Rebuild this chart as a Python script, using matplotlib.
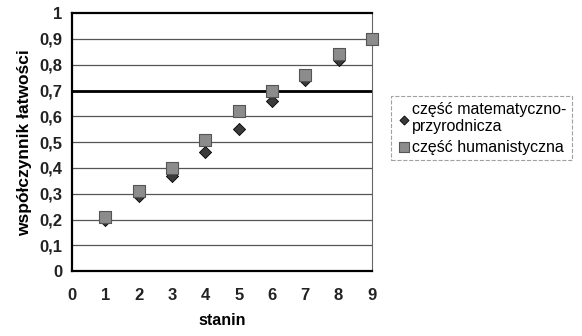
import matplotlib.pyplot as plt
from matplotlib.ticker import FuncFormatter

plt.rcParams['font.family'] = ['Liberation Sans', 'DejaVu Sans']

stanin = [1, 2, 3, 4, 5, 6, 7, 8, 9]
mat_przyr = [0.20, 0.29, 0.37, 0.46, 0.55, 0.66, 0.74, 0.82, 0.90]
humanist = [0.21, 0.31, 0.40, 0.51, 0.62, 0.70, 0.76, 0.84, 0.90]
yticks = [0, 0.1, 0.2, 0.3, 0.4, 0.5, 0.6, 0.7, 0.8, 0.9, 1]
prog = 0.7

fig = plt.figure(figsize=(5.82, 3.36), dpi=100)
ax = fig.add_axes([0.124, 0.193, 0.515, 0.768])

for y in yticks[1:-1]:
    ax.axhline(y, color='#555555', lw=0.9, zorder=1)
ax.axhline(prog, color='black', lw=2.0, zorder=2)

ax.scatter(stanin, mat_przyr, marker='D', s=38, color='#3a3a3a', clip_on=False,
           edgecolor='black', lw=0.6, zorder=3, label='część matematyczno-\nprzyrodnicza')
ax.scatter(stanin, humanist, marker='s', s=75, color='#8c8c8c', clip_on=False,
           edgecolor='#555555', lw=0.8, zorder=4, label='część humanistyczna')

ax.set_xlim(0, 9)
ax.set_ylim(0, 1)
ax.set_xticks(range(10))
ax.set_yticks(yticks)
ax.yaxis.set_major_formatter(FuncFormatter(lambda v, p: f'{v:g}'.replace('.', ',')))
ax.tick_params(axis='both', labelsize=12, length=0, pad=7)
ax.tick_params(axis='x', pad=12)
for lbl in ax.get_xticklabels() + ax.get_yticklabels():
    lbl.set_fontweight('bold')
    lbl.set_color('#222222')

for side in ['left', 'bottom', 'top']:
    ax.spines[side].set_linewidth(1.6)
ax.spines['right'].set_linewidth(0.8)
ax.spines['right'].set_color('#666666')

ax.set_xlabel('stanin', fontsize=11.5, fontweight='bold', labelpad=7)
ax.set_ylabel('współczynnik łatwości', fontsize=12.5, fontweight='bold', labelpad=5)

leg = fig.legend(loc='upper left', bbox_to_anchor=(0.672, 0.714), fontsize=11.5,
                 frameon=True, fancybox=False, handletextpad=0.05,
                 handlelength=0.9, borderpad=0.35, borderaxespad=0,
                 labelspacing=0.35, markerscale=0.75)
leg.get_frame().set_edgecolor('#888888')
leg.get_frame().set_linewidth(0.8)
leg.get_frame().set_linestyle('--')

fig.savefig('out.png', dpi=100)
